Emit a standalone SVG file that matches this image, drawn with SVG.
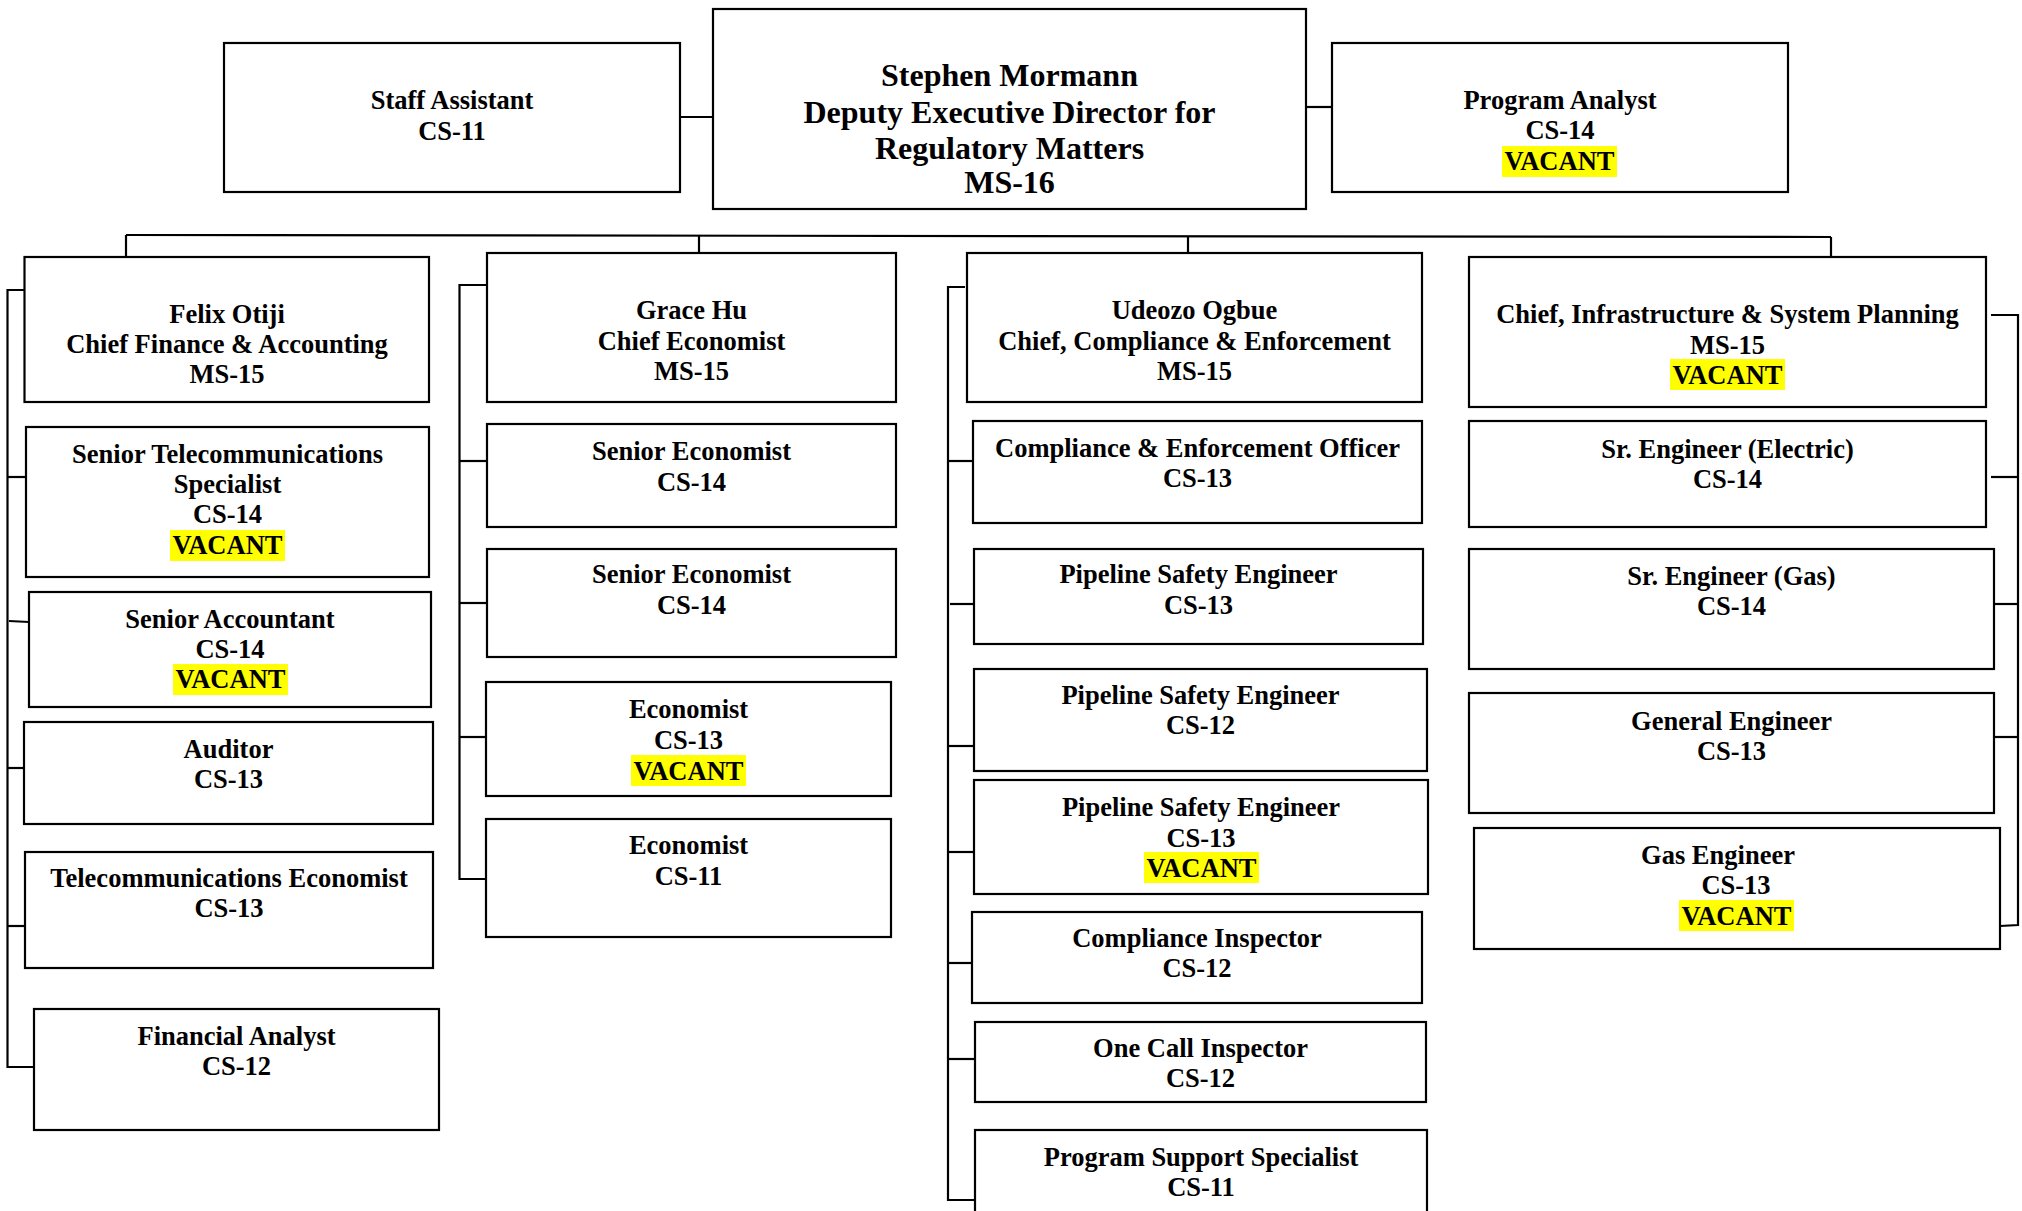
<svg xmlns="http://www.w3.org/2000/svg" width="2022" height="1211" viewBox="0 0 2022 1211">
  <style>
    .box { fill: #ffffff; stroke: #000000; stroke-width: 2.2; }
    .hl { fill: #ffff00; stroke: none; }
    .t { font-family: "Liberation Serif", "Times New Roman", serif; font-weight: bold; font-size: 26.5px; fill: #000000; text-anchor: middle; }
    .big { font-size: 32px; }
    .wire { fill: none; stroke: #000000; stroke-width: 2.2; }
  </style>
  <rect width="2022" height="1211" fill="#ffffff"/>

  <!-- connectors -->
  <g id="connectors" class="wire">
    <line x1="680" y1="117" x2="713" y2="117"/>
    <line x1="1306" y1="107" x2="1332" y2="107"/>
    <!-- main bus to the four division chiefs -->
    <line x1="126" y1="235" x2="1831" y2="237"/>
    <line x1="126" y1="235" x2="126" y2="257"/>
    <line x1="699" y1="236" x2="699" y2="256"/>
    <line x1="1188" y1="236" x2="1188" y2="253"/>
    <line x1="1831" y1="237" x2="1831" y2="257"/>
    <!-- finance & accounting column -->
    <polyline points="24.5,290 7.5,290 7.5,1067 34,1067"/>
    <line x1="7.5" y1="477" x2="26" y2="477"/>
    <line x1="9" y1="621" x2="29" y2="622"/>
    <line x1="7.5" y1="768" x2="24" y2="768"/>
    <line x1="7.5" y1="926" x2="25" y2="926"/>
    <!-- economics column -->
    <polyline points="487,285 459.5,285 459.5,879 486,879"/>
    <line x1="459.5" y1="461" x2="487" y2="461"/>
    <line x1="459.5" y1="603" x2="487" y2="603"/>
    <line x1="459.5" y1="737" x2="486" y2="737"/>
    <!-- compliance & enforcement column -->
    <polyline points="965,287 948,287 948,1200 975,1200"/>
    <line x1="948" y1="461" x2="975" y2="461"/>
    <line x1="950" y1="604" x2="976" y2="604"/>
    <line x1="948" y1="746" x2="976" y2="746"/>
    <line x1="947" y1="852" x2="974" y2="852"/>
    <line x1="948" y1="963" x2="975" y2="963"/>
    <line x1="948" y1="1059" x2="975" y2="1059"/>
    <!-- infrastructure & system planning column -->
    <polyline points="1991,315 2018,315 2018,925 2000,926"/>
    <line x1="1991" y1="477" x2="2018" y2="477"/>
    <line x1="1994" y1="604" x2="2018" y2="604"/>
    <line x1="1994" y1="737" x2="2018" y2="737"/>
  </g>

  <!-- top row -->
  <g id="staff-assistant">
    <rect class="box" x="224" y="43" width="456" height="149"/>
    <text class="t" x="452" y="109">Staff Assistant</text>
    <text class="t" x="452" y="140">CS-11</text>
  </g>
  <g id="deputy-director">
    <rect class="box" x="713" y="9" width="593" height="200"/>
    <text class="t big" x="1009.5" y="86">Stephen Mormann</text>
    <text class="t big" x="1009.5" y="123">Deputy Executive Director for</text>
    <text class="t big" x="1009.5" y="159">Regulatory Matters</text>
    <text class="t big" x="1009.5" y="193">MS-16</text>
  </g>
  <g id="program-analyst">
    <rect class="box" x="1332" y="43" width="456" height="149"/>
    <text class="t" x="1560" y="109">Program Analyst</text>
    <text class="t" x="1560" y="139">CS-14</text>
    <rect class="hl" x="1502" y="146" width="115" height="31"/>
    <text class="t" x="1559.5" y="170">VACANT</text>
  </g>

  <!-- finance & accounting -->
  <g id="chief-finance">
    <rect class="box" x="24.5" y="257" width="404.5" height="145"/>
    <text class="t" x="227" y="323">Felix Otiji</text>
    <text class="t" x="227" y="353">Chief Finance &amp; Accounting</text>
    <text class="t" x="227" y="383">MS-15</text>
  </g>
  <g id="senior-telecom-specialist">
    <rect class="box" x="26" y="427" width="403" height="150"/>
    <text class="t" x="227.5" y="463">Senior Telecommunications</text>
    <text class="t" x="227.5" y="493">Specialist</text>
    <text class="t" x="227.5" y="523">CS-14</text>
    <rect class="hl" x="170" y="530" width="115" height="31"/>
    <text class="t" x="227.5" y="554">VACANT</text>
  </g>
  <g id="senior-accountant">
    <rect class="box" x="29" y="592" width="402" height="115"/>
    <text class="t" x="230" y="628">Senior Accountant</text>
    <text class="t" x="230" y="658">CS-14</text>
    <rect class="hl" x="173" y="664" width="115" height="31"/>
    <text class="t" x="230.5" y="688">VACANT</text>
  </g>
  <g id="auditor">
    <rect class="box" x="24" y="722" width="409" height="102"/>
    <text class="t" x="228.5" y="758">Auditor</text>
    <text class="t" x="228.5" y="788">CS-13</text>
  </g>
  <g id="telecom-economist">
    <rect class="box" x="25" y="852" width="408" height="116"/>
    <text class="t" x="229" y="887">Telecommunications Economist</text>
    <text class="t" x="229" y="917">CS-13</text>
  </g>
  <g id="financial-analyst">
    <rect class="box" x="34" y="1009" width="405" height="121"/>
    <text class="t" x="236.5" y="1045">Financial Analyst</text>
    <text class="t" x="236.5" y="1075">CS-12</text>
  </g>

  <!-- economics -->
  <g id="chief-economist">
    <rect class="box" x="487" y="253" width="409" height="149"/>
    <text class="t" x="691.5" y="319">Grace Hu</text>
    <text class="t" x="691.5" y="350">Chief Economist</text>
    <text class="t" x="691.5" y="380">MS-15</text>
  </g>
  <g id="senior-economist-1">
    <rect class="box" x="487" y="424" width="409" height="103"/>
    <text class="t" x="691.5" y="460">Senior Economist</text>
    <text class="t" x="691.5" y="491">CS-14</text>
  </g>
  <g id="senior-economist-2">
    <rect class="box" x="487" y="549" width="409" height="108"/>
    <text class="t" x="691.5" y="583">Senior Economist</text>
    <text class="t" x="691.5" y="614">CS-14</text>
  </g>
  <g id="economist-cs13">
    <rect class="box" x="486" y="682" width="405" height="114"/>
    <text class="t" x="688.5" y="718">Economist</text>
    <text class="t" x="688.5" y="749">CS-13</text>
    <rect class="hl" x="631" y="755" width="115" height="31"/>
    <text class="t" x="688.5" y="780">VACANT</text>
  </g>
  <g id="economist-cs11">
    <rect class="box" x="486" y="819" width="405" height="118"/>
    <text class="t" x="688.5" y="854">Economist</text>
    <text class="t" x="688.5" y="885">CS-11</text>
  </g>

  <!-- compliance & enforcement -->
  <g id="chief-compliance">
    <rect class="box" x="967" y="253" width="455" height="149"/>
    <text class="t" x="1194.5" y="319">Udeozo Ogbue</text>
    <text class="t" x="1194.5" y="350">Chief, Compliance &amp; Enforcement</text>
    <text class="t" x="1194.5" y="380">MS-15</text>
  </g>
  <g id="compliance-officer">
    <rect class="box" x="973" y="421" width="449" height="102"/>
    <text class="t" x="1197.5" y="457">Compliance &amp; Enforcement Officer</text>
    <text class="t" x="1197.5" y="487">CS-13</text>
  </g>
  <g id="pipeline-engineer-cs13">
    <rect class="box" x="974" y="549" width="449" height="95"/>
    <text class="t" x="1198.5" y="583">Pipeline Safety Engineer</text>
    <text class="t" x="1198.5" y="614">CS-13</text>
  </g>
  <g id="pipeline-engineer-cs12">
    <rect class="box" x="974" y="669" width="453" height="102"/>
    <text class="t" x="1200.5" y="704">Pipeline Safety Engineer</text>
    <text class="t" x="1200.5" y="734">CS-12</text>
  </g>
  <g id="pipeline-engineer-vacant">
    <rect class="box" x="974" y="780" width="454" height="114"/>
    <text class="t" x="1201" y="816">Pipeline Safety Engineer</text>
    <text class="t" x="1201" y="847">CS-13</text>
    <rect class="hl" x="1144" y="852" width="115" height="31"/>
    <text class="t" x="1201.5" y="877">VACANT</text>
  </g>
  <g id="compliance-inspector">
    <rect class="box" x="972" y="912" width="450" height="91"/>
    <text class="t" x="1197" y="947">Compliance Inspector</text>
    <text class="t" x="1197" y="977">CS-12</text>
  </g>
  <g id="one-call-inspector">
    <rect class="box" x="975" y="1022" width="451" height="80"/>
    <text class="t" x="1200.5" y="1057">One Call Inspector</text>
    <text class="t" x="1200.5" y="1087">CS-12</text>
  </g>
  <g id="program-support-specialist">
    <rect class="box" x="975" y="1130" width="452" height="100"/>
    <text class="t" x="1201" y="1166">Program Support Specialist</text>
    <text class="t" x="1201" y="1196">CS-11</text>
  </g>

  <!-- infrastructure & system planning -->
  <g id="chief-infrastructure">
    <rect class="box" x="1469" y="257" width="517" height="150"/>
    <text class="t" x="1727.5" y="323">Chief, Infrastructure &amp; System Planning</text>
    <text class="t" x="1727.5" y="354">MS-15</text>
    <rect class="hl" x="1670" y="359" width="115" height="31"/>
    <text class="t" x="1727.5" y="384">VACANT</text>
  </g>
  <g id="sr-engineer-electric">
    <rect class="box" x="1469" y="421" width="517" height="106"/>
    <text class="t" x="1727.5" y="458">Sr. Engineer (Electric)</text>
    <text class="t" x="1727.5" y="488">CS-14</text>
  </g>
  <g id="sr-engineer-gas">
    <rect class="box" x="1469" y="549" width="525" height="120"/>
    <text class="t" x="1731.5" y="585">Sr. Engineer (Gas)</text>
    <text class="t" x="1731.5" y="615">CS-14</text>
  </g>
  <g id="general-engineer">
    <rect class="box" x="1469" y="693" width="525" height="120"/>
    <text class="t" x="1731.5" y="730">General Engineer</text>
    <text class="t" x="1731.5" y="760">CS-13</text>
  </g>
  <g id="gas-engineer">
    <rect class="box" x="1474" y="828" width="526" height="121"/>
    <text class="t" x="1718" y="864">Gas Engineer</text>
    <text class="t" x="1736" y="894">CS-13</text>
    <rect class="hl" x="1679" y="900" width="115" height="31"/>
    <text class="t" x="1736.5" y="925">VACANT</text>
  </g>
</svg>
